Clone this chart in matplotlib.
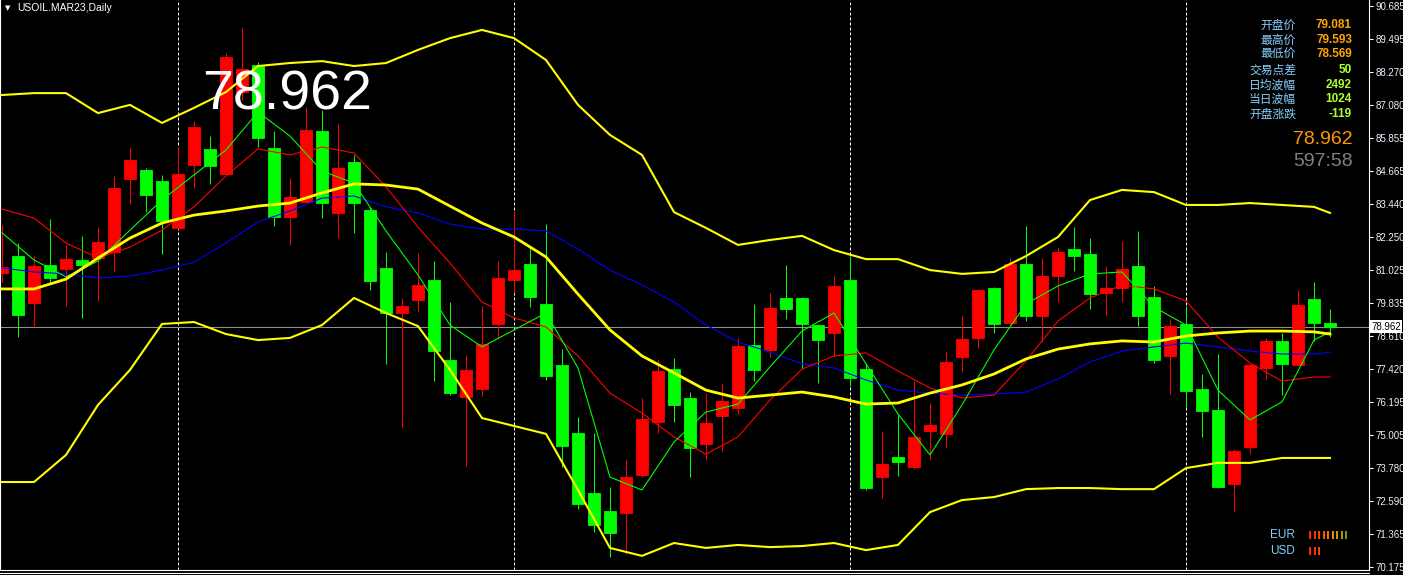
import matplotlib
matplotlib.use("Agg")
import matplotlib.pyplot as plt
from matplotlib.patches import Rectangle
from matplotlib.lines import Line2D
import matplotlib.transforms as mtransforms

# ---------------- data ----------------
opens = [80.92, 81.54, 79.84, 81.21, 81.08, 81.40, 81.46, 81.70, 84.36, 84.69,
         84.29, 82.57, 84.88, 85.46, 84.55, 87.54, 88.53, 85.49, 82.98, 83.52,
         86.11, 83.13, 84.99, 83.23, 81.10, 79.47, 79.95, 80.67, 77.74, 76.40,
         76.69, 79.07, 80.68, 81.25, 79.79, 77.56, 75.07, 72.88, 72.22, 72.15,
         73.55, 75.49, 77.41, 76.35, 74.68, 75.70, 76.00, 78.29, 78.12, 80.01,
         80.01, 79.02, 78.74, 80.67, 77.41, 73.47, 74.19, 73.83, 75.14, 75.05,
         77.86, 78.56, 80.37, 79.09, 81.25, 79.36, 80.82, 81.80, 81.62, 80.20,
         80.38, 81.18, 80.04, 77.90, 79.06, 76.68, 75.91, 73.22, 74.57, 77.46,
         78.44, 77.57, 79.97, 79.081]
highs = [82.68, 82.02, 81.57, 82.90, 81.95, 82.28, 82.60, 84.47, 85.49, 84.76,
         84.51, 85.54, 86.48, 85.93, 88.96, 89.87, 88.64, 86.13, 84.38, 87.00,
         86.88, 86.37, 85.24, 83.32, 81.69, 80.00, 81.65, 81.36, 79.86, 77.92,
         79.72, 81.36, 83.15, 81.91, 82.71, 78.13, 75.66, 75.07, 73.10, 74.09,
         76.35, 77.78, 77.81, 76.57, 76.55, 76.90, 78.55, 79.79, 80.19, 81.21,
         80.05, 79.05, 80.81, 81.54, 77.63, 75.14, 75.73, 76.97, 76.18, 78.07,
         79.35, 80.34, 80.42, 81.48, 82.64, 81.48, 81.87, 82.60, 82.20, 81.18,
         82.09, 82.46, 80.45, 79.24, 79.72, 77.23, 77.96, 74.49, 77.58, 78.55,
         78.74, 80.30, 80.59, 79.593]
lows = [80.59, 78.59, 78.96, 80.57, 79.73, 79.27, 79.90, 80.97, 83.46, 83.16,
        81.62, 82.53, 84.02, 84.17, 84.51, 87.25, 85.52, 82.65, 81.95, 83.48,
        82.95, 82.21, 82.40, 80.30, 77.61, 75.28, 79.51, 76.98, 76.46, 73.88,
        76.44, 78.52, 80.18, 79.69, 77.02, 73.82, 72.31, 71.46, 70.55, 70.66,
        73.47, 75.08, 75.49, 73.47, 74.10, 74.42, 75.78, 76.98, 77.85, 79.25,
        77.42, 76.91, 77.90, 76.79, 72.99, 72.71, 73.51, 73.77, 74.13, 74.54,
        77.31, 78.19, 78.74, 78.92, 79.18, 78.41, 79.87, 80.99, 79.62, 79.40,
        79.87, 78.99, 77.64, 76.51, 76.03, 74.94, 73.07, 72.23, 74.32, 77.06,
        76.47, 77.55, 78.45, 78.569]
closes = [81.14, 79.40, 81.18, 80.74, 81.43, 81.21, 82.06, 84.02, 85.05, 83.77,
          82.82, 84.55, 86.26, 84.85, 88.82, 88.38, 85.87, 82.98, 83.70, 86.15,
          83.49, 84.76, 83.49, 80.64, 79.47, 79.72, 80.48, 78.08, 76.52, 77.38,
          78.33, 80.74, 81.03, 80.06, 77.17, 74.61, 72.49, 71.72, 71.43, 73.46,
          75.58, 77.34, 76.11, 74.54, 75.44, 76.24, 78.25, 77.39, 79.64, 79.62,
          79.07, 78.48, 80.45, 77.09, 73.07, 73.94, 74.02, 74.93, 75.36, 77.67,
          78.51, 80.30, 79.06, 81.25, 79.36, 80.81, 81.69, 81.55, 80.17, 80.37,
          81.07, 79.36, 77.75, 78.98, 76.62, 75.89, 73.11, 74.41, 77.56, 78.44,
          77.61, 79.75, 79.10, 78.962]

# indicator lines, sampled at these candle indices
line_idx = [0, 2, 4, 6, 8, 10, 12, 14, 16, 18, 20, 22, 24, 26, 28, 30, 32, 34, 36, 38,
            40, 42, 44, 46, 48, 50, 52, 54, 56, 58, 60, 62, 64, 66, 68, 70, 72, 74, 76, 78,
            80, 82, 83]
bb_upper = [87.43, 87.50, 87.50, 86.77, 87.07, 86.41, 86.96, 87.54, 88.49, 88.60,
            88.67, 88.49, 88.60, 89.08, 89.51, 89.81, 89.51, 88.71, 87.07, 85.97,
            85.24, 83.15, 82.57, 81.95, 82.13, 82.28, 81.76, 81.43, 81.43, 81.03,
            80.89, 80.96, 81.54, 82.24, 83.59, 83.96, 83.88, 83.41, 83.41, 83.48,
            83.41, 83.34, 83.12]
bb_mid = [80.34, 80.34, 80.70, 81.47, 82.20, 82.75, 83.04, 83.19, 83.37, 83.48,
          83.85, 84.18, 84.14, 83.99, 83.37, 82.75, 82.24, 81.51, 80.15, 78.84,
          77.89, 77.27, 76.64, 76.35, 76.46, 76.57, 76.39, 76.13, 76.17, 76.53,
          76.83, 77.23, 77.78, 78.14, 78.33, 78.44, 78.40, 78.62, 78.73, 78.80,
          78.80, 78.77, 78.69]
bb_lower = [73.28, 73.28, 74.27, 76.10, 77.38, 79.06, 79.13, 78.69, 78.47, 78.55,
            79.02, 80.01, 79.46, 78.98, 77.38, 75.62, 75.33, 75.04, 72.99, 70.87,
            70.58, 71.05, 70.87, 70.98, 70.90, 70.94, 71.05, 70.79, 70.98, 72.18,
            72.62, 72.73, 73.02, 73.06, 73.06, 73.02, 73.02, 73.79, 73.98, 73.98,
            74.16, 74.16, 74.16]
ma_green = [82.39, 81.40, 80.78, 81.36, 82.49, 83.59, 84.51, 85.42, 86.81, 85.93,
            84.65, 84.21, 82.46, 80.85, 79.02, 78.22, 78.84, 79.46, 77.45, 73.46,
            72.99, 74.74, 75.84, 76.13, 77.49, 78.80, 79.46, 77.60, 75.77, 74.27,
            76.10, 78.11, 79.79, 80.45, 80.89, 80.96, 79.68, 79.02, 76.64, 75.55,
            76.21, 78.47, 78.77]
ma_red = [83.26, 82.93, 82.02, 81.47, 81.87, 82.49, 83.34, 84.47, 85.46, 85.24,
          85.53, 85.31, 84.07, 82.60, 81.29, 79.86, 79.28, 78.95, 77.89, 76.53,
          75.80, 74.93, 74.30, 74.93, 76.28, 77.41, 77.89, 78.00, 77.34, 76.72,
          76.35, 76.46, 77.71, 79.17, 80.01, 80.48, 80.34, 79.90, 78.58, 77.63,
          76.97, 77.12, 77.12]
ma_blue = [81.11, 80.96, 80.89, 80.74, 80.81, 81.03, 81.32, 82.02, 82.79, 83.19,
           83.66, 83.74, 83.34, 83.12, 82.71, 82.53, 82.53, 82.46, 81.80, 81.03,
           80.48, 79.86, 79.02, 78.40, 78.03, 77.60, 77.45, 77.01, 76.64, 76.53,
           76.46, 76.50, 76.57, 77.05, 77.67, 78.07, 78.22, 78.36, 78.22, 78.07,
           77.96, 77.96, 78.03]

price_ticks = [90.685, 89.495, 88.270, 87.080, 85.855, 84.665, 83.440, 82.250, 81.025,
               79.835, 78.610, 77.420, 76.195, 75.005, 73.780, 72.590, 71.365, 70.175]
separator_idx = [11, 32, 53, 74]
current_price = 78.962
symbol_label = "USOIL.MAR23,Daily"
info_labels = ["开盘价", "最高价", "最低价", "交易点差", "日均波幅", "当日波幅", "开盘涨跌"]
info_values = ["79.081", "79.593", "78.569", "50", "2492", "1024", "-119"]
info_value_colors = ["#ffa500", "#ffa500", "#ffa500", "#adff2f", "#adff2f", "#adff2f", "#adff2f"]
countdown = "597:58"
currencies = ["EUR", "USD"]
strength_colors = [["#ff2200", "#ff3300", "#ff4000", "#ff5500", "#ff7000", "#ee8800",
                    "#cc9900", "#a89c00", "#6e9e00"],
                   ["#ff2200", "#ff3300", "#ff4000"]]

# ---------------- figure ----------------
W, H = 1403, 575
fig = plt.figure(figsize=(W / 100, H / 100), dpi=100, facecolor="black")
ax_right_px, ax_bottom_px = 1369, 570
ax = fig.add_axes([0, (H - ax_bottom_px) / H, ax_right_px / W, ax_bottom_px / H])
ax.set_facecolor("black")

px_per_unit = 27.35
y_top = 90.685 + 6 / px_per_unit
y_bot = y_top - ax_bottom_px / px_per_unit
ax.set_ylim(y_bot, y_top)
ax.set_xlim(-2 / 16, (ax_right_px - 2) / 16)

# period separators
for s in separator_idx:
    ax.axvline(s, color="white", lw=0.72, linestyle=(0, (3, 2)), zorder=1)

# current price line
ax.axhline(current_price, color="#909090", lw=0.75, zorder=1.5)

# candles
n = len(opens)
xs = list(range(n))
cols = ["#ff0000" if c > o else "#00ff00" for o, c in zip(opens, closes)]
ax.vlines(xs, lows, highs, colors=cols, lw=0.75, zorder=2)
bottoms = [min(o, c) for o, c in zip(opens, closes)]
heights = [abs(c - o) for o, c in zip(opens, closes)]
ax.bar(xs, heights, bottom=bottoms, width=0.69, color=cols, edgecolor=cols,
       linewidth=0.6, zorder=2.5)

# indicator lines
ax.plot(line_idx, ma_blue, color="#0000ff", lw=0.8, zorder=3)
ax.plot(line_idx, ma_red, color="#ff0000", lw=0.8, zorder=3)
ax.plot(line_idx, ma_green, color="#00ff00", lw=0.8, zorder=3)
ax.plot(line_idx, bb_upper, color="#ffff00", lw=1.5, zorder=3.5)
ax.plot(line_idx, bb_lower, color="#ffff00", lw=1.5, zorder=3.5)
ax.plot(line_idx, bb_mid, color="#ffff00", lw=2.0, zorder=3.5)

# axes styling
for side in ["left", "right", "bottom"]:
    ax.spines[side].set_color("white")
    ax.spines[side].set_linewidth(0.8)
ax.spines["top"].set_visible(False)
ax.set_xticks([])
ax.yaxis.tick_right()
ax.set_yticks(price_ticks)
ax.set_yticklabels([f"{t:.3f}" for t in price_ticks])
ax.tick_params(axis="y", colors="white", length=3, width=0.75, pad=1.5,
               labelsize=7, labelcolor="#f0f0ff")
for lab in ax.get_yticklabels():
    lab.set_family("Liberation Sans")

# extra bottom border line
fig.add_artist(Line2D([0, ax_right_px / W], [1 - 573 / H, 1 - 573 / H],
                      color="white", lw=0.8, transform=fig.transFigure))

# current price box on the axis
trans = mtransforms.blended_transform_factory(fig.transFigure, ax.transData)
ax.text(1371 / W, current_price, f"{current_price:.3f}", transform=trans,
        ha="left", va="center", fontsize=7, color="black", family="Liberation Sans",
        bbox=dict(boxstyle="square,pad=0.15", fc="white", ec="none"), zorder=10,
        clip_on=False)

# title
fig.text(5 / W, 1 - 8 / H, "▼", fontsize=5, color="white", va="center", ha="left",
         family="DejaVu Sans")
fig.text(17 / W, 1 - 8 / H, symbol_label, fontsize=7.5, color="white", va="center",
         ha="left", family="Liberation Sans")

# big price
fig.text(202 / W, 1 - 110 / H, f"{current_price:.3f}", fontsize=40, color="white",
         va="baseline", ha="left", family="Liberation Sans")

# info panel
row_y = [25, 40, 54, 70, 85, 99, 114]
for lab, val, vc, ry in zip(info_labels, info_values, info_value_colors, row_y):
    fig.text(1296 / W, 1 - ry / H, lab, fontsize=8.5, color="#87cefa", ha="right",
             va="center", family=["Noto Sans CJK SC", "DejaVu Sans"])
    fig.text(1352 / W, 1 - ry / H, val, fontsize=8.5, color=vc, ha="right",
             va="center", fontweight="bold", family="Liberation Sans")
fig.text(1353 / W, 1 - 140 / H, f"{current_price:.3f}", fontsize=14, color="#ff9900",
         ha="right", va="center", family="Liberation Sans")
fig.text(1353 / W, 1 - 161 / H, countdown, fontsize=14, color="#808080",
         ha="right", va="center", family="Liberation Sans")

# currency strength meter
cur_y = [535, 551]
for name, cy, colors in zip(currencies, cur_y, strength_colors):
    fig.text(1270 / W, 1 - cy / H, name, fontsize=8.5, color="#87cefa", ha="left",
             va="center", family="Liberation Sans")
    for k, c in enumerate(colors):
        fig.add_artist(Rectangle(((1309 + 4.5 * k) / W, 1 - (cy + 4) / H), 2.2 / W, 8 / H,
                                 transform=fig.transFigure, color=c, lw=0))

fig.savefig("out.png", dpi=100, facecolor="black")
